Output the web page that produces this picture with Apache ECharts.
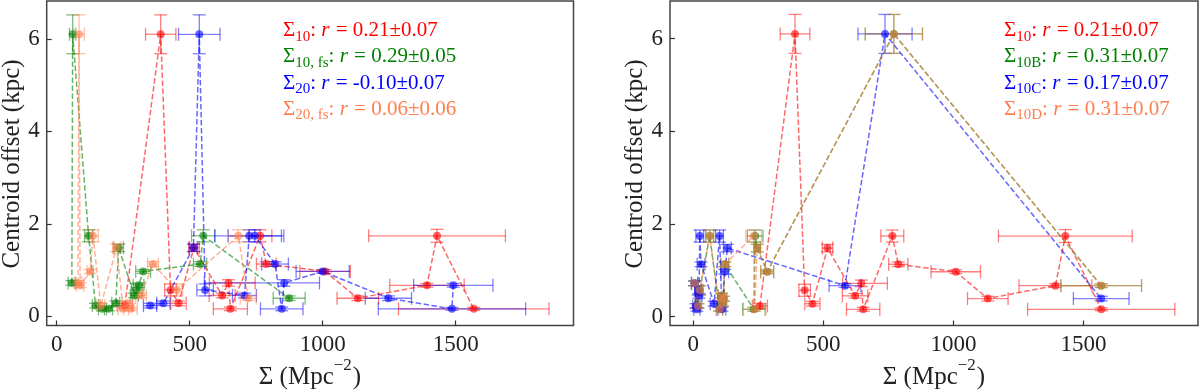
<!DOCTYPE html>
<html>
<head>
<meta charset="utf-8">
<script src="https://cdn.jsdelivr.net/npm/echarts@6/dist/echarts.min.js"></script>
<style>
html, body { margin: 0; padding: 0; background: #fff; }
#chart { width: 1200px; height: 392px; }
</style>
</head>
<body>
<div id="chart"></div>
<script>
// one point: [sigma, offset, sigma error, offset error]; sigma error may be [minus, plus]
const s10 = [
  [256, 0.23, 29, 0.05], [391, 6.10, 57, 0.42], [428, 0.57, 22, 0.13],
  [458, 0.28, 29, 0.05], [516, 1.48, 20, 0.08], [622, 0.45, 49, 0.05],
  [646, 0.72, [72, 100], 0.07], [653, 0.16, 64, 0.04], [765, 1.74, 44, 0.13],
  [788, 1.13, 37, 0.05], [1009, 0.97, 95, 0.04], [1132, 0.39, 78, 0.05],
  [1392, 0.67, 140, 0.04], [1430, 1.74, 257, 0.14], [1568, 0.16, 283, 0.03]
];
const s10fs = [
  [57, 0.72, 14, 0.05], [60, 6.10, 12, 0.42], [120, 1.74, 15, 0.13],
  [146, 0.23, 12, 0.05], [172, 0.16, 15, 0.04], [195, 0.16, 15, 0.04],
  [222, 0.28, 15, 0.05], [233, 1.48, 18, 0.08], [292, 0.45, 15, 0.05],
  [301, 0.57, 20, 0.13], [308, 0.67, 20, 0.05], [325, 0.97, 28, 0.04],
  [539, 1.13, 25, 0.05], [551, 1.74, 44, 0.13], [874, 0.39, 60, 0.05]
];
const s20 = [
  [351, 0.23, 25, 0.05], [401, 0.28, 25, 0.05], [514, 1.48, 15, 0.08],
  [536, 6.10, 78, 0.42], [558, 0.57, 31, 0.13], [706, 0.45, 45, 0.05],
  [724, 1.74, 130, 0.13], [745, 1.74, 100, 0.13], [821, 1.13, 50, 0.05],
  [846, 0.16, 80, 0.04], [855, 0.72, [300, 133], 0.07], [1000, 0.97, 100, 0.04],
  [1247, 0.39, 87, 0.05], [1486, 0.16, 277, 0.03], [1491, 0.67, 149, 0.04]
];
const s20fs = [
  [80, 0.72, 14, 0.05], [84, 6.10, 20, 0.42], [88, 0.67, 14, 0.05],
  [126, 0.97, 12, 0.04], [136, 1.74, 20, 0.13], [166, 0.23, 15, 0.05],
  [225, 1.48, 15, 0.08], [250, 0.16, 20, 0.04], [265, 0.28, 18, 0.05],
  [278, 0.16, 25, 0.04], [317, 0.45, 20, 0.05], [362, 1.13, 20, 0.05],
  [451, 0.57, 22, 0.13], [683, 1.74, 40, 0.13], [720, 0.39, 30, 0.05]
];
const s10B = [
  [5, 0.72, 12, 0.05], [18, 0.23, 12, 0.05], [25, 0.57, 12, 0.1],
  [63, 1.74, 15, 0.13], [101, 0.16, 12, 0.04], [108, 0.45, 12, 0.05],
  [112, 0.28, 12, 0.05], [116, 0.39, 12, 0.05], [121, 1.13, 15, 0.05],
  [233, 0.16, 43, 0.04], [238, 1.74, 30, 0.13], [246, 1.48, 12, 0.08],
  [284, 0.97, 25, 0.04], [771, 6.10, 110, 0.42], [1568, 0.67, 155, 0.04]
];
const s10C = [
  [5, 0.72, 12, 0.05], [10, 0.23, 12, 0.05], [14, 0.16, 12, 0.04],
  [18, 0.57, 12, 0.1], [22, 0.45, 12, 0.05], [25, 1.74, 15, 0.13],
  [30, 1.13, 15, 0.05], [80, 0.28, 15, 0.05], [101, 1.74, 15, 0.13],
  [110, 0.16, 15, 0.04], [121, 0.97, 15, 0.05], [131, 1.48, 15, 0.08],
  [583, 0.67, 61, 0.04], [737, 6.10, 104, 0.42], [1568, 0.39, 107, 0.05]
];
const s10D = [
  [5, 0.72, 12, 0.05], [18, 0.23, 12, 0.05], [25, 0.57, 12, 0.1],
  [63, 1.74, 15, 0.13], [101, 0.16, 12, 0.04], [108, 0.45, 12, 0.05],
  [112, 0.28, 12, 0.05], [116, 0.39, 12, 0.05], [121, 1.13, 15, 0.05],
  [232, 1.74, 30, 0.13], [236, 0.16, 43, 0.04], [246, 1.48, 12, 0.08],
  [284, 0.97, 25, 0.04], [771, 6.10, 110, 0.42], [1568, 0.67, 155, 0.04]
];

const xTicks = [0, 500, 1000, 1500];
const yTicks = [0, 2, 4, 6];

const RED = '#ff0000', GREEN = '#008000', BLUE = '#0000ff', CORAL = '#ff7f50';

const leftLegend = [
  { sub: '10', r: '0.21±0.07', color: RED },
  { sub: '10, fs', r: '0.29±0.05', color: GREEN },
  { sub: '20', r: '-0.10±0.07', color: BLUE },
  { sub: '20, fs', r: '0.06±0.06', color: CORAL }
];
const rightLegend = [
  { sub: '10', r: '0.21±0.07', color: RED },
  { sub: '10B', r: '0.31±0.07', color: GREEN },
  { sub: '10C', r: '0.17±0.07', color: BLUE },
  { sub: '10D', r: '0.31±0.07', color: CORAL }
];

const FONT = '"Liberation Serif", "Times New Roman", serif';
const ctx = document.createElement('canvas').getContext('2d');
function textW (t, size, italic) {
  ctx.font = (italic ? 'italic ' : '') + size + 'px ' + FONT;
  return ctx.measureText(t).width;
}

// lay out pieces of text one after the other, each centred on y + dy
function runText (x, y, pieces, color) {
  let cx = x;
  const out = [];
  pieces.forEach(p => {
    out.push({
      type: 'text', x: cx, y: y + (p.dy || 0), silent: true,
      style: {
        text: p.t, fill: color, fontFamily: FONT, fontSize: p.s,
        fontStyle: p.it ? 'italic' : 'normal',
        align: 'left', verticalAlign: 'middle'
      }
    });
    cx += textW(p.t, p.s, p.it) + (p.gap || 0);
  });
  return out;
}

function legendBlock (x, y0, rows) {
  let els = [];
  rows.forEach((e, i) => {
    els = els.concat(runText(x, y0 + i * 26.2, [
      { t: 'Σ', s: 21 },
      { t: e.sub, s: 15, dy: 6 },
      { t: ': ', s: 21 },
      { t: 'r', s: 21, it: true, gap: 1 },
      { t: ' = ' + e.r, s: 21 }
    ], e.color));
  });
  return els;
}

function xLabel (cx, y) {
  const pieces = [
    { t: 'Σ (Mpc', s: 25 },
    { t: '−2', s: 17, dy: -11, gap: 1 },
    { t: ')', s: 25 }
  ];
  let total = 0;
  pieces.forEach(p => { total += textW(p.t, p.s) + (p.gap || 0); });
  return runText(cx - total / 2, y, pieces, '#222');
}

function yLabel (x, y) {
  return {
    type: 'text', x: x, y: y, rotation: Math.PI / 2, silent: true,
    style: {
      text: 'Centroid offset (kpc)', fill: '#222', fontFamily: FONT, fontSize: 25,
      align: 'center', verticalAlign: 'middle'
    }
  };
}

function errData (pts) {
  return pts.map(p => {
    const xm = Array.isArray(p[2]) ? p[2][0] : p[2];
    const xp = Array.isArray(p[2]) ? p[2][1] : p[2];
    return [p[0], p[1], p[0] - xm, p[0] + xp, p[1] - p[3], p[1] + p[3]];
  });
}

function errRender (color) {
  return function (params, api) {
    const x = api.value(0), y = api.value(1);
    const pl = api.coord([api.value(2), y]), pr = api.coord([api.value(3), y]);
    const pb = api.coord([x, api.value(4)]), pt = api.coord([x, api.value(5)]);
    const c = 6.5;
    const st = { stroke: color, lineWidth: 1.3, opacity: 0.5 };
    const seg = (x1, y1, x2, y2) => ({ type: 'line', shape: { x1, y1, x2, y2 }, style: st });
    return {
      type: 'group',
      children: [
        seg(pl[0], pl[1], pr[0], pr[1]),
        seg(pb[0], pb[1], pt[0], pt[1]),
        seg(pl[0], pl[1] - c, pl[0], pl[1] + c),
        seg(pr[0], pr[1] - c, pr[0], pr[1] + c),
        seg(pb[0] - c, pb[1], pb[0] + c, pb[1]),
        seg(pt[0] - c, pt[1], pt[0] + c, pt[1])
      ]
    };
  };
}

function makeSeries (pts, color, idx, dashOffset) {
  return [
    {
      type: 'custom', xAxisIndex: idx, yAxisIndex: idx, silent: true,
      renderItem: errRender(color), data: errData(pts),
      encode: { x: [0, 2, 3], y: [1, 4, 5] }
    },
    {
      type: 'line', xAxisIndex: idx, yAxisIndex: idx, silent: true,
      data: pts.map(p => [p[0], p[1]]),
      symbol: 'circle', symbolSize: 8, showAllSymbol: true,
      itemStyle: { color: color, opacity: 0.6 },
      lineStyle: { color: color, width: 1.5, type: [5.5, 2.5], dashOffset: dashOffset || 0, opacity: 0.6 }
    }
  ];
}

function xAxis (idx, min, max) {
  return {
    gridIndex: idx, type: 'value', min: min, max: max,
    axisLine: { show: false, onZero: false }, splitLine: { show: false },
    axisTick: { show: true, inside: true, length: 5, customValues: xTicks, lineStyle: { color: '#333', width: 1.2 } },
    axisLabel: { customValues: xTicks, formatter: v => String(v), fontFamily: FONT, fontSize: 23, color: '#222', margin: 8 }
  };
}
function yAxis (idx, min, max) {
  return {
    gridIndex: idx, type: 'value', min: min, max: max,
    axisLine: { show: false, onZero: false }, splitLine: { show: false },
    axisTick: { show: true, inside: true, length: 5, customValues: yTicks, lineStyle: { color: '#333', width: 1.2 } },
    axisLabel: { customValues: yTicks, formatter: v => String(v), fontFamily: FONT, fontSize: 23, color: '#222', margin: 7 }
  };
}

const chart = echarts.init(document.getElementById('chart'));
chart.setOption({
  animation: false,
  backgroundColor: '#fff',
  grid: [
    { left: 46.7, top: 1, width: 526.8, height: 324.5, show: true, borderColor: '#444', borderWidth: 1.5 },
    { left: 670, top: 1, width: 528, height: 324.5, show: true, borderColor: '#444', borderWidth: 1.5 }
  ],
  xAxis: [xAxis(0, -37.6, 1943), xAxis(1, -89.5, 1940)],
  yAxis: [yAxis(0, -0.2, 6.82), yAxis(1, -0.19, 6.81)],
  series: [].concat(
    makeSeries(s10, RED, 0),
    makeSeries(s10fs, GREEN, 0),
    makeSeries(s20, BLUE, 0),
    makeSeries(s20fs, CORAL, 0),
    makeSeries(s10, RED, 1),
    makeSeries(s10B, GREEN, 1),
    makeSeries(s10C, BLUE, 1),
    makeSeries(s10D, CORAL, 1, 4)
  ),
  graphic: [].concat(
    legendBlock(283, 30.7, leftLegend),
    legendBlock(1004, 30.7, rightLegend),
    xLabel(310, 377),
    xLabel(934, 377),
    [yLabel(12, 164), yLabel(635, 164)]
  )
});
</script>
</body>
</html>
